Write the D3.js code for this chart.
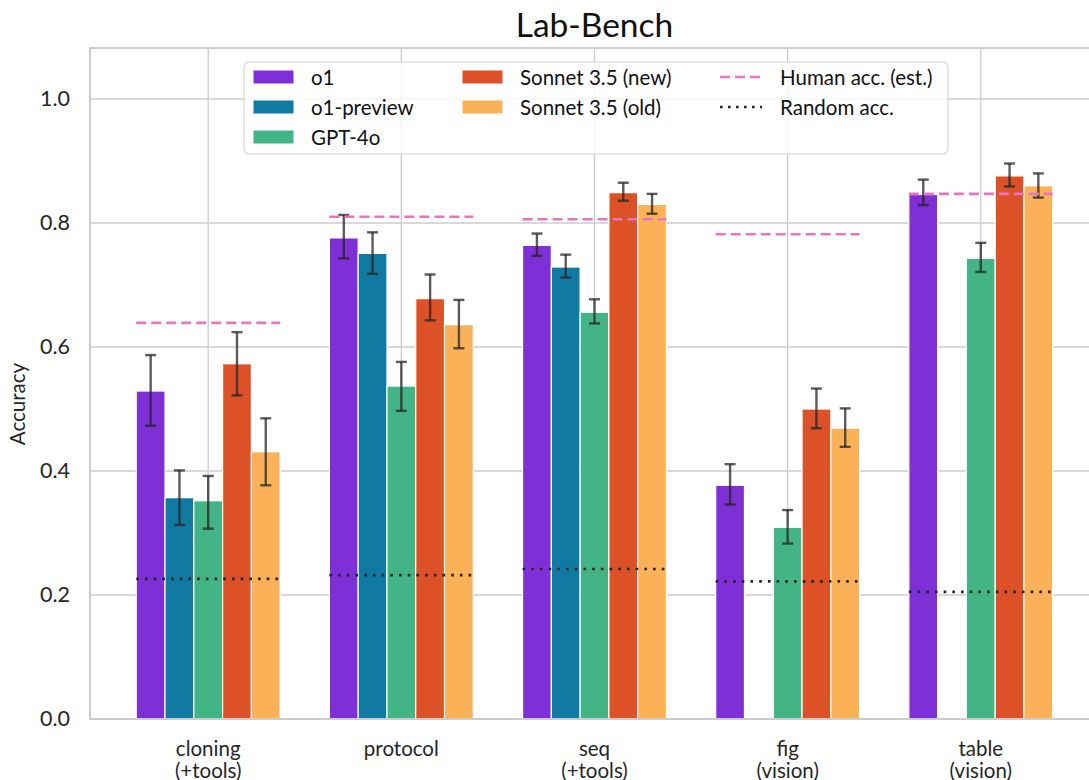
<!DOCTYPE html>
<html>
<head>
<meta charset="utf-8">
<script src="https://cdn.jsdelivr.net/npm/d3@7"></script>
<style>
  body { margin: 0; background: #fff; }
  svg { font-family: Lato, "DejaVu Sans", sans-serif; }
</style>
</head>
<body>
<div id="chart"></div>
<script>
const categories = ["cloning\n(+tools)", "protocol", "seq\n(+tools)", "fig\n(vision)", "table\n(vision)"];
const models = ["o1", "o1-preview", "GPT-4o", "Sonnet 3.5 (new)", "Sonnet 3.5 (old)"];
const colors = ["#7f2fd6", "#117aa2", "#43b486", "#dd5128", "#fbb157"];

// accuracy per model, one entry per category
const o1 = [0.529, 0.776, 0.764, 0.377, 0.846];
const o1Preview = [0.357, 0.751, 0.729, 0, 0];
const gpt4o = [0.352, 0.537, 0.656, 0.309, 0.743];
const sonnetNew = [0.573, 0.678, 0.849, 0.500, 0.876];
const sonnetOld = [0.431, 0.636, 0.830, 0.469, 0.860];

// error bar ends
const o1Lo = [0.473, 0.743, 0.747, 0.346, 0.829];
const o1Hi = [0.587, 0.813, 0.783, 0.411, 0.870];
const o1PreviewLo = [0.313, 0.718, 0.712, null, null];
const o1PreviewHi = [0.401, 0.785, 0.749, null, null];
const gpt4oLo = [0.307, 0.497, 0.638, 0.283, 0.721];
const gpt4oHi = [0.392, 0.576, 0.677, 0.337, 0.768];
const sonnetNewLo = [0.522, 0.643, 0.836, 0.469, 0.859];
const sonnetNewHi = [0.624, 0.717, 0.865, 0.533, 0.896];
const sonnetOldLo = [0.377, 0.598, 0.815, 0.439, 0.841];
const sonnetOldHi = [0.485, 0.676, 0.847, 0.501, 0.880];

const human = [0.639, 0.810, 0.806, 0.782, 0.847];
const random = [0.226, 0.232, 0.242, 0.222, 0.205];

const yTicks = [0, 0.2, 0.4, 0.6, 0.8, 1.0];

const series = [o1, o1Preview, gpt4o, sonnetNew, sonnetOld];
const lows = [o1Lo, o1PreviewLo, gpt4oLo, sonnetNewLo, sonnetOldLo];
const highs = [o1Hi, o1PreviewHi, gpt4oHi, sonnetNewHi, sonnetOldHi];

const rows = [];
models.forEach((m, i) => {
  categories.forEach((c, j) => {
    rows.push({model: m, cat: c, value: series[i][j], lo: lows[i][j], hi: highs[i][j], color: colors[i]});
  });
});

const W = 1089, H = 780;
const pLeft = 90, pRight = 1099, pTop = 48, pBottom = 719;

const svg = d3.select("#chart").append("svg")
  .attr("width", W).attr("height", H);

const x = d3.scaleBand().domain(categories).range([pLeft, pRight]).paddingInner(0).paddingOuter(0.112);
const groupW = x.step() * 0.745;
const xm = d3.scaleBand().domain(models).range([0, groupW]);
const y = d3.scaleLinear().domain([0, 1.0823]).range([pBottom, pTop]);
const cx = c => x(c) + x.bandwidth() / 2;
const gx = c => cx(c) - groupW / 2;

// grid
svg.append("g").selectAll("line").data(yTicks).join("line")
  .attr("x1", pLeft).attr("x2", pRight)
  .attr("y1", d => y(d)).attr("y2", d => y(d))
  .attr("stroke", "#cccccc").attr("stroke-width", 1.3);
svg.append("g").selectAll("line").data(categories).join("line")
  .attr("x1", cx).attr("x2", cx)
  .attr("y1", pTop).attr("y2", pBottom)
  .attr("stroke", "#cccccc").attr("stroke-width", 1.3);

// bars
svg.append("g").selectAll("rect").data(rows).join("rect")
  .attr("x", d => gx(d.cat) + xm(d.model))
  .attr("y", d => y(d.value))
  .attr("width", xm.bandwidth())
  .attr("height", d => y(0) - y(d.value))
  .attr("fill", d => d.color)
  .attr("stroke", "#fff").attr("stroke-width", 1.2);

// error bars
const eb = svg.append("g").attr("stroke", "#262626").attr("stroke-opacity", 0.75).attr("stroke-width", 2.4);
const ebRows = rows.filter(d => d.lo != null);
const ebx = d => gx(d.cat) + xm(d.model) + xm.bandwidth() / 2;
eb.selectAll(".v").data(ebRows).join("line").attr("class", "v")
  .attr("x1", ebx).attr("x2", ebx).attr("y1", d => y(d.lo)).attr("y2", d => y(d.hi));
["lo", "hi"].forEach(k => {
  eb.selectAll(".c" + k).data(ebRows).join("line").attr("class", "c" + k)
    .attr("x1", d => ebx(d) - 5.5).attr("x2", d => ebx(d) + 5.5)
    .attr("y1", d => y(d[k])).attr("y2", d => y(d[k]));
});

// reference lines
svg.append("g").selectAll("line").data(categories).join("line")
  .attr("x1", gx).attr("x2", c => gx(c) + groupW)
  .attr("y1", (c, i) => y(human[i])).attr("y2", (c, i) => y(human[i]))
  .attr("stroke", "#e377c2").attr("stroke-width", 2.6).attr("stroke-dasharray", "10,5");
svg.append("g").selectAll("line").data(categories).join("line")
  .attr("x1", gx).attr("x2", c => gx(c) + groupW)
  .attr("y1", (c, i) => y(random[i])).attr("y2", (c, i) => y(random[i]))
  .attr("stroke", "#222").attr("stroke-width", 2.6).attr("stroke-dasharray", "2.6,6.1");

// spines
svg.append("path")
  .attr("d", `M${pRight},${pTop}H${pLeft}V${pBottom}H${pRight}`)
  .attr("fill", "none").attr("stroke", "#cccccc").attr("stroke-width", 2);

// y axis
const yAxis = svg.append("g").attr("transform", `translate(${pLeft},0)`)
  .call(d3.axisLeft(y).tickValues(yTicks).tickFormat(d3.format(".1f")).tickSize(0).tickPadding(20));
yAxis.select(".domain").remove();
yAxis.selectAll("text").attr("font-size", 21.5).attr("fill", "#262626").attr("font-family", "Lato");

// x axis labels
const xl = svg.append("g").selectAll("text").data(categories).join("text")
  .attr("x", cx).attr("y", 756)
  .attr("text-anchor", "middle").attr("font-size", 20.5).attr("fill", "#262626");
xl.selectAll("tspan").data(d => d.split("\n").map(t => ({t: t, c: d}))).join("tspan")
  .attr("x", d => cx(d.c))
  .attr("dy", (d, i) => i ? 22 : 0)
  .text(d => d.t);

svg.append("text").attr("transform", "translate(25,404) rotate(-90)")
  .attr("text-anchor", "middle").attr("font-size", 20.5).attr("fill", "#262626").text("Accuracy");

svg.append("text").attr("x", (pLeft + pRight) / 2).attr("y", 37)
  .attr("text-anchor", "middle").attr("font-size", 33.5).attr("fill", "#111").text("Lab-Bench");

// legend
const lg = svg.append("g");
lg.append("rect").attr("x", 244).attr("y", 62).attr("width", 704).attr("height", 92)
  .attr("rx", 5).attr("fill", "#fff").attr("fill-opacity", 0.8)
  .attr("stroke", "#d6d6d6").attr("stroke-width", 1.2);
const items = models.map((m, i) => ({label: m, kind: "patch", color: colors[i]}))
  .concat([{label: "Human acc. (est.)", kind: "dash"}, {label: "Random acc.", kind: "dot"}]);
const colX = [253, 462, 720];
const rowY = [77, 107, 137];
const slot = [[0, 0], [0, 1], [0, 2], [1, 0], [1, 1], [2, 0], [2, 1]];
const li = lg.selectAll("g").data(items).join("g")
  .attr("transform", (d, i) => `translate(${colX[slot[i][0]]},${rowY[slot[i][1]]})`);
li.filter(d => d.kind === "patch").append("rect")
  .attr("x", 0).attr("y", -7).attr("width", 41).attr("height", 14)
  .attr("fill", d => d.color).attr("stroke", "#fff").attr("stroke-width", 1);
li.filter(d => d.kind === "dash").append("line")
  .attr("x1", 0).attr("x2", 42).attr("stroke", "#e377c2").attr("stroke-width", 2.6).attr("stroke-dasharray", "10,5");
li.filter(d => d.kind === "dot").append("line")
  .attr("x1", 0).attr("x2", 42).attr("stroke", "#222").attr("stroke-width", 2.6).attr("stroke-dasharray", "2.6,5.4");
li.append("text").attr("x", d => d.kind === "patch" ? 58 : 60).attr("y", 7.5)
  .attr("font-size", 20.5).attr("fill", "#111").text(d => d.label);
</script>
</body>
</html>
